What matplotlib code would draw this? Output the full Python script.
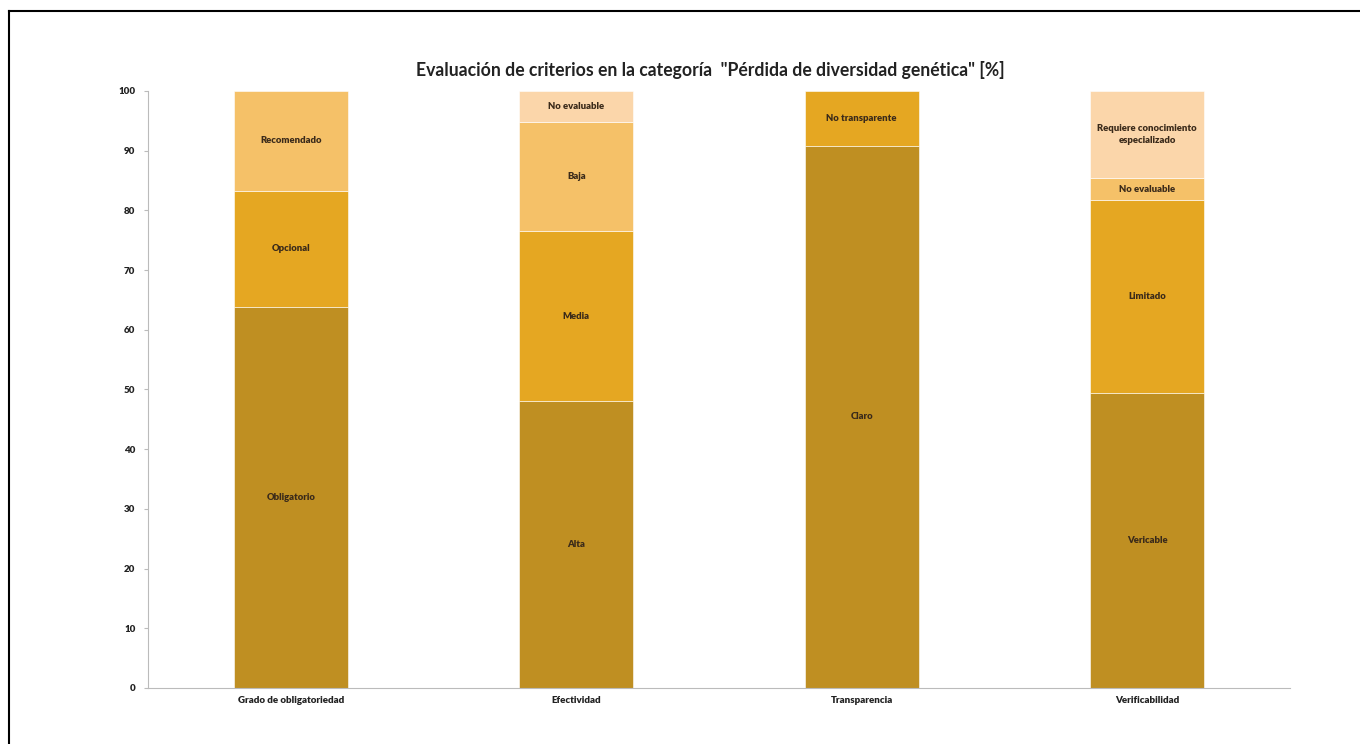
import matplotlib
matplotlib.use("Agg")
import matplotlib.pyplot as plt
from matplotlib.lines import Line2D

plt.rcParams['font.family'] = ['Lato', 'DejaVu Sans']

categories = ["Grado de obligatoriedad", "Efectividad", "Transparencia", "Verificabilidad"]

# each bar: list of (label, value, color-level)
seg_labels = [
    ["Obligatorio", "Opcional", "Recomendado"],
    ["Alta", "Media", "Baja", "No evaluable"],
    ["Claro", "No transparente"],
    ["Vericable", "Limitado", "No evaluable", "Requiere conocimiento\nespecializado"],
]
seg_values = [
    [63.9, 19.4, 16.7],
    [48.1, 28.4, 18.3, 5.2],
    [90.8, 9.2],
    [49.4, 32.3, 3.7, 14.6],
]
seg_levels = [
    [0, 1, 2],
    [0, 1, 2, 3],
    [0, 1],
    [0, 1, 2, 3],
]
level_colors = ["#BF8F22", "#E5A722", "#F5C168", "#FBD6AA"]

title = 'Evaluación de criterios en la categoría  "Pérdida de diversidad genética" [%]'
yticks = list(range(0, 101, 10))

fig = plt.figure(figsize=(13.6, 7.44), dpi=100)
ax = fig.add_axes([0.1088, 0.0753, 0.9485 - 0.1088, 0.8777 - 0.0753])

for i, (labs, vals, lvls) in enumerate(zip(seg_labels, seg_values, seg_levels)):
    bottom = 0
    for lab, v, lv in zip(labs, vals, lvls):
        ax.bar(i, v, bottom=bottom, width=0.4, color=level_colors[lv],
               edgecolor='white', linewidth=0.4)
        ax.text(i, bottom + v / 2, lab, ha='center', va='center',
                fontsize=6.8, fontweight='heavy', color='#3a2a1a', linespacing=1.5)
        bottom += v

ax.set_xlim(-0.5, 3.5)
ax.set_ylim(0, 100)
ax.set_yticks(yticks)
ax.set_xticks(range(len(categories)))
ax.set_xticklabels(categories, fontsize=7, fontweight='heavy', color='#222222')
ax.set_yticklabels([str(t) for t in yticks], fontsize=7, fontweight='heavy', color='#222222')
for s in ['top', 'right']:
    ax.spines[s].set_visible(False)
for s in ['left', 'bottom']:
    ax.spines[s].set_color('#bbbbbb')
    ax.spines[s].set_linewidth(0.8)
ax.tick_params(axis='y', length=3, color='#bbbbbb', pad=6)
ax.tick_params(axis='x', length=0, pad=6)

fig.text(0.522, 0.906, title, ha='center', va='center', fontsize=12.7,
         fontweight='bold', color='#222222')

fig.add_artist(Line2D([0.0066, 1.0], [0.985, 0.985], color='black', linewidth=1.5,
                      transform=fig.transFigure))
fig.add_artist(Line2D([0.0066, 0.0066], [0.0, 0.985], color='black', linewidth=1.5,
                      transform=fig.transFigure))

fig.savefig("out.png", dpi=100, facecolor='white')
